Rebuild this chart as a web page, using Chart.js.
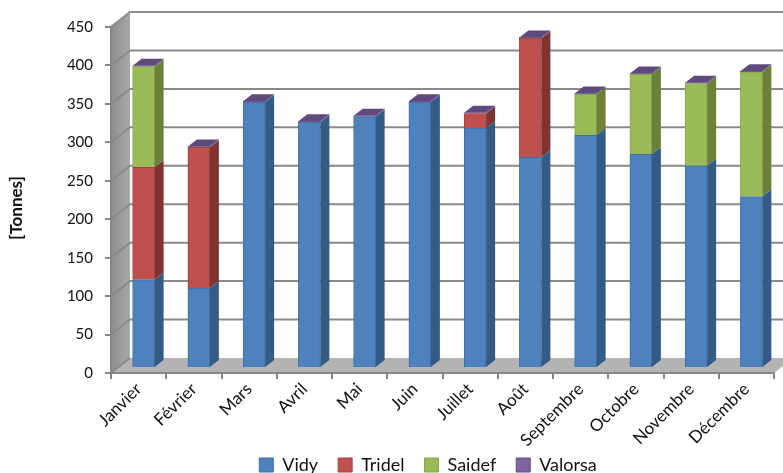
<!DOCTYPE html>
<html><head><meta charset="utf-8">
<style>html,body{margin:0;padding:0;background:#fff}#w{width:783px;height:473px;position:relative}</style>
<script src="https://cdn.jsdelivr.net/npm/chart.js@4"></script></head>
<body><div id="w"><canvas id="c"></canvas></div>
<script>
const categories=['Janvier','Février','Mars','Avril','Mai','Juin','Juillet','Août','Septembre','Octobre','Novembre','Décembre'];
const vidy=[115,104,346,320,327,346,312,274,303,278,263,223];
const tridel=[146,183,0,0,0,0,19,155,0,0,0,0];
const saidef=[131,0,0,0,0,0,0,0,53,104,107,162];
const valorsa=[1,1,1,1,1,1,1,1,1,1,1,1];
const yTicks=[0,50,100,150,200,250,300,350,400,450];
const FONT='Lato, Carlito, sans-serif';
const WALL={dx:19,dy:-15}, BAR={dx:5,dy:-5}, SIDE={dx:9,dy:-7};
const sideColors=['#345a86','#7f3431','#6b8139','#5f4a7d'];

const wall3d={id:'wall3d',
 afterLayout(ch){
  ch.legend.left+=76;
  ch.scales.x._computeLabelArea=function(){return undefined;};
  const s=ch.scales.y;
  if(s._titleShifted)return;
  s._titleShifted=true;
  const orig=s.drawTitle;
  s.drawTitle=function(){const c=ch.ctx;c.save();c.translate(0,8);orig.call(s);c.restore();};
 },
 beforeDraw(ch){
  const c=ch.ctx,{left:l,right:r,bottom:b,top:t}=ch.chartArea,y=ch.scales.y;
  c.save();
  c.fillStyle='#fff';c.fillRect(0,0,ch.width,ch.height);
  const g=c.createLinearGradient(l,0,l+WALL.dx,0);g.addColorStop(0,'#8e8e8e');g.addColorStop(1,'#a8a8a8');
  c.fillStyle=g;c.beginPath();c.moveTo(l,t);c.lineTo(l+WALL.dx,t+WALL.dy);c.lineTo(l+WALL.dx,b+WALL.dy);c.lineTo(l,b);c.closePath();c.fill();
  c.fillStyle='#b4b4b4';c.beginPath();c.moveTo(l,b);c.lineTo(l+WALL.dx,b+WALL.dy);c.lineTo(r+WALL.dx,b+WALL.dy);c.lineTo(r,b);c.closePath();c.fill();
  c.lineWidth=2;
  yTicks.forEach(v=>{const p=y.getPixelForValue(v);
   c.strokeStyle='#8a8a8a';c.beginPath();c.moveTo(l,p);c.lineTo(l+WALL.dx,p+WALL.dy);
   if(v>0)c.lineTo(r+WALL.dx,p+WALL.dy);c.stroke();});
  c.restore();
 },
 beforeDatasetsDraw(ch){ch.ctx.save();ch.ctx.translate(BAR.dx,BAR.dy);},
 afterDatasetsDraw(ch){
  const c=ch.ctx;
  ch.data.datasets.forEach((ds,i)=>{
   ch.getDatasetMeta(i).data.forEach(e=>{
    if(Math.abs(e.base-e.y)<0.01)return;
    const R=e.x+e.width/2,L=e.x-e.width/2;
    c.fillStyle=sideColors[i];
    c.beginPath();c.moveTo(R,e.y);c.lineTo(R+SIDE.dx,e.y+SIDE.dy);c.lineTo(R+SIDE.dx,e.base+SIDE.dy);c.lineTo(R,e.base);c.closePath();c.fill();
    if(i===ch.data.datasets.length-1){
     c.beginPath();c.moveTo(L,e.y);c.lineTo(L+SIDE.dx,e.y+SIDE.dy);c.lineTo(R+SIDE.dx,e.y+SIDE.dy);c.lineTo(R,e.y);c.closePath();c.fill();
    }
   });
  });
  c.restore();
 }};

new Chart(document.getElementById('c'),{
 type:'bar',
 data:{labels:categories,datasets:[
  {label:'Vidy',data:vidy,backgroundColor:'#4f81bd',borderColor:'#3d6ea8'},
  {label:'Tridel',data:tridel,backgroundColor:'#c0504d',borderColor:'#a8403d'},
  {label:'Saidef',data:saidef,backgroundColor:'#9bbb59',borderColor:'#86a548'},
  {label:'Valorsa',data:valorsa,backgroundColor:'#8064a2',borderColor:'#5f4a7d'}
 ].map(d=>Object.assign(d,{borderWidth:1,barThickness:22,clip:false}))},
 options:{responsive:true,maintainAspectRatio:false,animation:false,
  layout:{padding:{top:27,right:9,left:6,bottom:-11}},
  plugins:{tooltip:{enabled:false},
   legend:{position:'bottom',labels:{boxWidth:14,boxHeight:14,padding:20,color:'#111',font:{family:FONT,size:18}}}},
  scales:{
   x:{stacked:true,
    afterFit(s){s.height=63;},
    grid:{drawOnChartArea:false,drawTicks:true,tickLength:6,color:'#868686',lineWidth:2},
    border:{color:'#868686',width:2},
    ticks:{minRotation:45,maxRotation:45,padding:0,color:'#111',font:{family:FONT,size:17}}},
   y:{stacked:true,min:0,max:450,
    afterFit(s){s.width=105;},
    afterBuildTicks(s){s.ticks=yTicks.map(v=>({value:v}));},
    grid:{drawOnChartArea:false,drawTicks:true,tickLength:6,color:'#868686',lineWidth:2},
    border:{color:'#868686',width:2},
    title:{display:true,text:'[Tonnes]',color:'#111',padding:{top:0,bottom:30},font:{family:FONT,size:17,weight:'bold'}},
    ticks:{padding:12,color:'#111',font:{family:FONT,size:15}}}
  }},
 plugins:[wall3d]
});
</script></body></html>
